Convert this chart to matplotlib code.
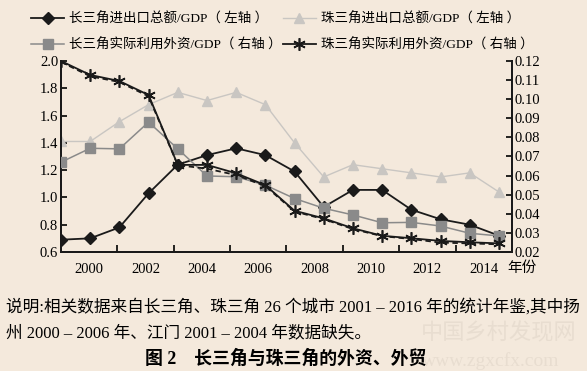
import numpy as np
import matplotlib
matplotlib.use("Agg")
import matplotlib.pyplot as plt

plt.rcParams['font.family'] = ['Liberation Serif', 'Noto Sans CJK SC']

# data
years = np.arange(1999, 2015)
yrd_trade = [0.69, 0.70, 0.78, 1.03, 1.24, 1.31, 1.36, 1.31, 1.19, 0.93,
             1.055, 1.055, 0.91, 0.84, 0.80, 0.72]
prd_trade = [1.41, 1.41, 1.555, 1.68, 1.77, 1.71, 1.77, 1.68, 1.40, 1.15,
             1.24, 1.21, 1.18, 1.15, 1.18, 1.04]
yrd_fdi = [0.067, 0.0743, 0.074, 0.088, 0.074, 0.0598, 0.0594, 0.055, 0.048, 0.0429,
           0.0394, 0.0353, 0.0355, 0.0336, 0.0298, 0.0284]
prd_fdi = [0.120, 0.1127, 0.1095, 0.1022, 0.0656, 0.0656, 0.0612, 0.055, 0.0416, 0.0376,
           0.0324, 0.0285, 0.0272, 0.0258, 0.0251, 0.0245]
prd_fdi_dash = [0.1195, 0.112, 0.109, 0.1015, 0.0655, 0.0636, 0.0603, 0.0545, 0.0412, 0.0372,
                0.032, 0.0283, 0.0268, 0.0249, 0.0245, 0.0240]
tick_labels = ['2000', '2002', '2004', '2006', '2008', '2010', '2012', '2014']

labels = ['长三角进出口总额/GDP（ 左轴 ）', '长三角实际利用外资/GDP（ 右轴 ）',
          '珠三角进出口总额/GDP（ 左轴 ）', '珠三角实际利用外资/GDP（ 右轴 ）']

bg = '#f4e9dc'
fig = plt.figure(figsize=(5.87, 3.71), dpi=100, facecolor=bg)
ax = fig.add_axes([0.1039, 0.3208, 0.7683, 0.5148])
ax.set_facecolor(bg)
ax2 = ax.twinx()

star = (6, 2, 0)
l2, = ax.plot(years, prd_trade, color='#c9c6c2', lw=1.0, marker='^', ms=7, mec='#c9c6c2', zorder=2)
l1, = ax.plot(years, yrd_trade, color='#1a1a1a', lw=1.3, marker='D', ms=6.5, zorder=4)
l3, = ax2.plot(years, yrd_fdi, color='#8a8a8a', lw=1.1, marker='s', ms=6.5, zorder=3)
ax2.plot(years, prd_fdi_dash, color='#1a1a1a', lw=1.3, ls=(0, (3, 2)), zorder=3)
l4, = ax2.plot(years, prd_fdi, color='#1a1a1a', lw=1.3, marker=star, ms=9, mew=1.2, zorder=4)

x0, x1 = 1999, 1999 + 15 / 0.971
ax.set_xlim(x0, x1)
ax.set_ylim(0.6, 2.0)
ax2.set_ylim(0.02, 0.12)
ax.set_yticks(np.arange(0.6, 2.01, 0.2))
ax.set_yticklabels(['%.1f' % v for v in np.arange(0.6, 2.01, 0.2)])
ax2.set_yticks(np.arange(0.02, 0.121, 0.01))
ax2.set_yticklabels(['%.2f' % v for v in np.arange(0.02, 0.121, 0.01)])

span = x1 - x0
ax.set_xticks([x0 + span * k / 8 for k in range(1, 8)])
ax.set_xticklabels([])
ax.set_xticks([x0 + span * (k + 0.5) / 8 for k in range(8)], minor=True)
ax.set_xticklabels(tick_labels, minor=True)
ax.tick_params(axis='x', which='major', direction='in', length=5, width=1.2)
ax.tick_params(axis='x', which='minor', length=0, labelsize=10.5, pad=8)
ax.tick_params(axis='y', direction='in', length=4, width=1.2, labelsize=10.5, pad=2)
ax2.tick_params(axis='y', direction='in', length=4, width=1.2, labelsize=10.5, pad=2)

for a in (ax, ax2):
    a.spines['top'].set_visible(False)
    for s in ('left', 'right', 'bottom'):
        a.spines[s].set_linewidth(1.4)
        a.spines[s].set_color('#1a1a1a')

ax.text(0.99, -0.085, '年份', transform=ax.transAxes, fontsize=10.5, va='center', ha='left')

handles = [l1, l3, l2, l4]
fig.legend(handles, labels, ncol=2, loc='upper left', bbox_to_anchor=(0.033, 1.0),
           frameon=False, fontsize=9.7, handlelength=2.4, handletextpad=0.4,
           columnspacing=0.1, labelspacing=1.0)

# faint watermark
fig.text(0.849, 0.10, '中国乡村发现网', fontsize=16, color='#e8ddd0', ha='center', va='center')
fig.text(0.836, 0.027, 'www.zgxcfx.com', fontsize=14, color='#e8ddd0', ha='center', va='center')

fig.text(0.01, 0.1725, '说明:相关数据来自长三角、珠三角 26 个城市 2001 – 2016 年的统计年鉴,其中扬',
         fontsize=12, va='center', ha='left')
fig.text(0.01, 0.102, '州 2000 – 2006 年、江门 2001 – 2004 年数据缺失。',
         fontsize=12, va='center', ha='left')
fig.text(0.486, 0.032, '图 2　长三角与珠三角的外资、外贸', fontsize=12.9,
         fontweight='bold', va='center', ha='center')

fig.savefig('out.png', dpi=100, facecolor=bg)
